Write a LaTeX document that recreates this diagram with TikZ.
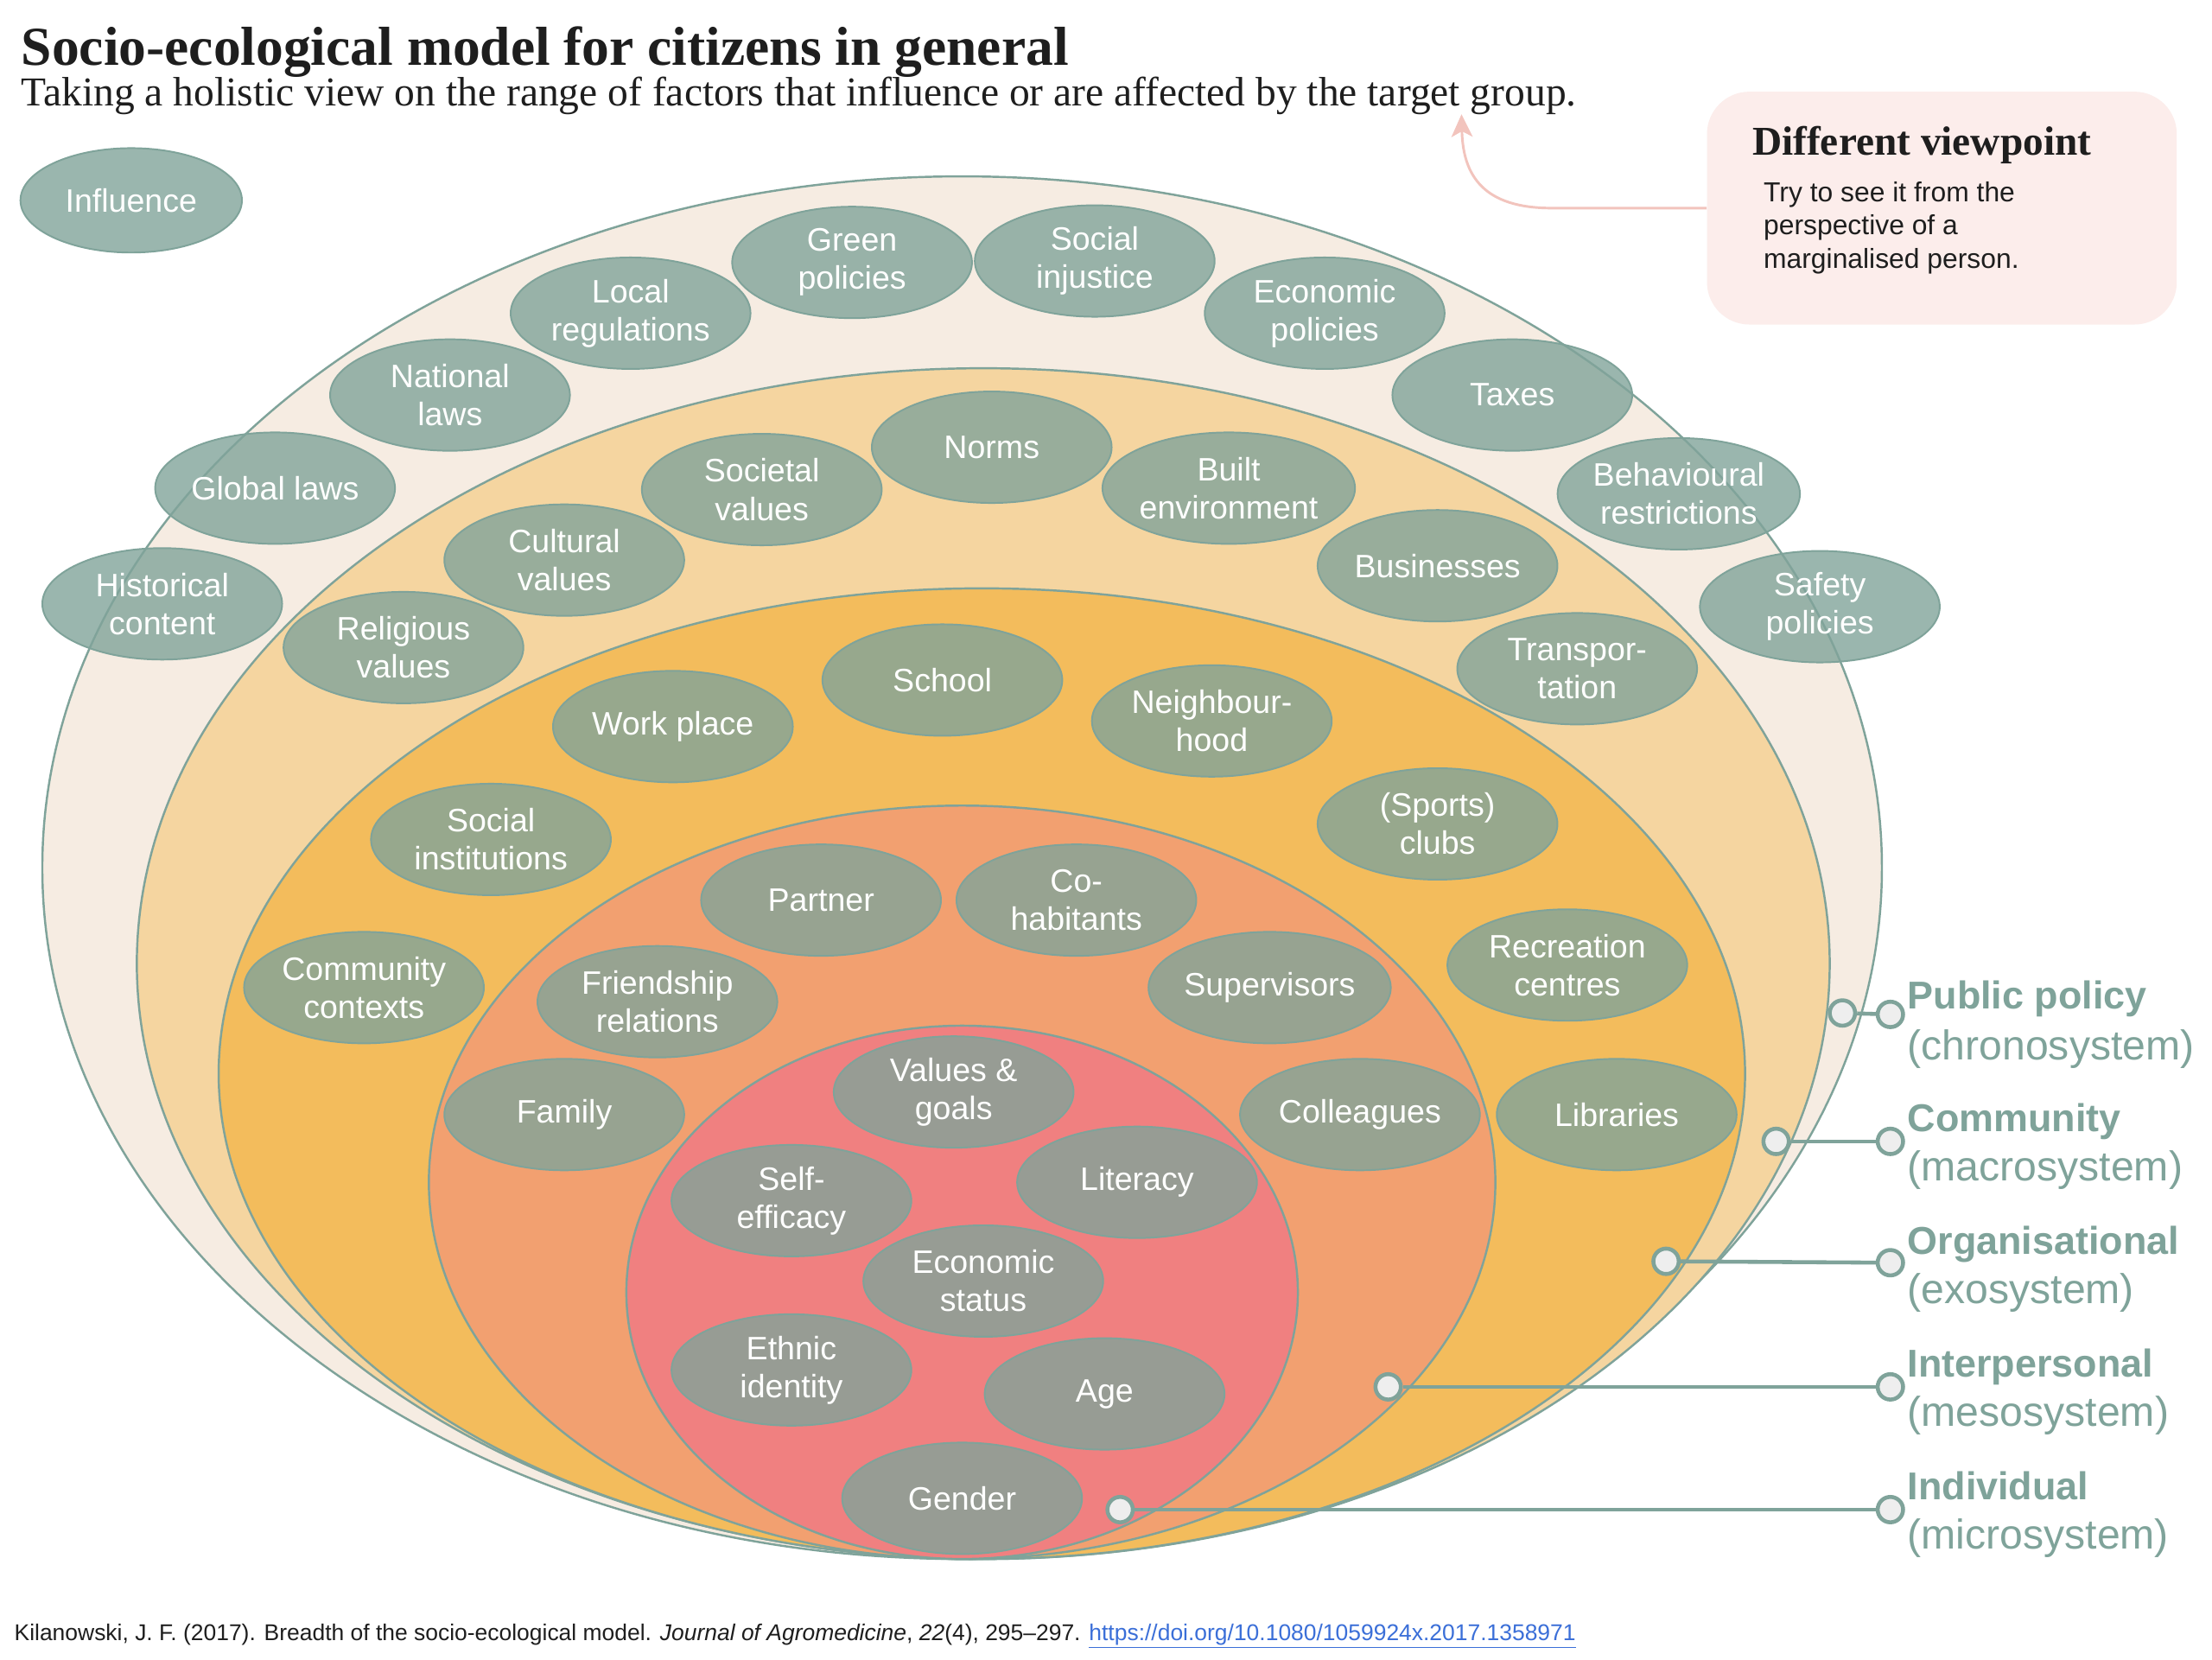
\documentclass[tikz,border=0pt]{standalone}
\usepackage{fontspec}
\setmainfont{Liberation Sans}
\newfontfamily\timesfont{Liberation Serif}
\usetikzlibrary{shapes.geometric,arrows.meta}
\definecolor{sgOuter}{HTML}{F6ECE2}
\definecolor{sgMacro}{HTML}{F5D5A0}
\definecolor{sgExo}{HTML}{F3BC5C}
\definecolor{sgMeso}{HTML}{F2A070}
\definecolor{sgMicro}{HTML}{F08080}
\definecolor{sgLine}{HTML}{7FA39A}
\definecolor{sgFill}{HTML}{81A49A}
\definecolor{sgDot}{HTML}{EEEEEE}
\definecolor{sgPink}{HTML}{F2C4BD}
\definecolor{sgBox}{HTML}{FCEDEB}
\definecolor{sgLink}{HTML}{3B6FD8}
\definecolor{sgText}{HTML}{1E1E1E}
\begin{document}
\begin{tikzpicture}[x=1pt,y=-1pt,
  layer/.style={draw=sgLine, line width=1.5pt},
  factor/.style={ellipse, draw=sgLine, line width=1.2pt, fill=sgFill, fill opacity=0.8, text opacity=1,
    text=white, minimum width=170pt, minimum height=79pt, inner sep=0pt, align=center,
    font=\fontsize{23}{27}\selectfont},
  legdot/.style={circle, draw=sgLine, line width=2.8pt, fill=sgDot, minimum size=18pt, inner sep=0pt},
  leglink/.style={draw=sgLine, line width=2.8pt},
  legbold/.style={anchor=base west, inner sep=0pt, text=sgLine, font=\fontsize{27.5}{33}\selectfont\bfseries},
  legreg/.style={anchor=base west, inner sep=0pt, text=sgLine, font=\fontsize{29.5}{34}\selectfont},
  boxline/.style={anchor=base west, inner sep=0pt, text=sgText, font=\fontsize{19.5}{23}\selectfont}
]
\fill[white] (0,0) rectangle (1568,1176);
\useasboundingbox (0,0) rectangle (1568,1176);

% titles
\node[anchor=base west, inner sep=0pt, text=sgText, font=\timesfont\bfseries\fontsize{38.9}{44}\selectfont] (title) at (15,46) {Socio-ecological model for citizens in general};
\node[anchor=base west, inner sep=0pt, text=sgText, font=\timesfont\fontsize{29.1}{34}\selectfont] (subtitle) at (15,75) {Taking a holistic view on the range of factors that influence or are affected by the target group.};

% layers
\draw[layer, fill=sgOuter] (682,615) ellipse [x radius=652pt, y radius=490pt];
\draw[layer, fill=sgMacro] (697,683) ellipse [x radius=600pt, y radius=422pt];
\draw[layer, fill=sgExo]   (696,761) ellipse [x radius=541pt, y radius=344pt];
\draw[layer, fill=sgMeso]  (682,838) ellipse [x radius=378pt, y radius=267pt];
\draw[layer, fill=sgMicro] (682,916) ellipse [x radius=238pt, y radius=189pt];

% outside
\node[factor, minimum width=157pt, minimum height=74pt] (influence) at (93,142) {Influence};

% chronosystem ring
\node[factor] (green) at (604,186) {Green\\policies};
\node[factor] (injustice) at (776,185) {Social\\injustice};
\node[factor] (local) at (447,222) {Local\\regulations};
\node[factor] (econpol) at (939,222) {Economic\\policies};
\node[factor] (national) at (319,280) {National\\laws};
\node[factor] (taxes) at (1072,280) {Taxes};
\node[factor] (global) at (195,346) {Global laws};
\node[factor] (behav) at (1190,350) {Behavioural\\restrictions};
\node[factor] (historical) at (115,428) {Historical\\content};
\node[factor] (safety) at (1290,430) {Safety\\policies};

% macrosystem ring
\node[factor] (norms) at (703,317) {Norms};
\node[factor] (societal) at (540,347) {Societal\\values};
\node[factor] (built) at (871,346) {Built\\environment};
\node[factor] (cultural) at (400,397) {Cultural\\values};
\node[factor] (business) at (1019,401) {Businesses};
\node[factor] (religious) at (286,459) {Religious\\values};
\node[factor] (transport) at (1118,474) {Transpor-\\tation};

% exosystem ring
\node[factor] (school) at (668,482) {School};
\node[factor] (work) at (477,515) {Work place};
\node[factor] (neigh) at (859,511) {Neighbour-\\hood};
\node[factor] (socinst) at (348,595) {Social\\institutions};
\node[factor] (sports) at (1019,584) {(Sports)\\clubs};
\node[factor] (commctx) at (258,700) {Community\\contexts};
\node[factor] (recreation) at (1111,684) {Recreation\\centres};
\node[factor] (libraries) at (1146,790) {Libraries};

% mesosystem ring
\node[factor] (partner) at (582,638) {Partner};
\node[factor] (cohab) at (763,638) {Co-\\habitants};
\node[factor] (friend) at (466,710) {Friendship\\relations};
\node[factor] (superv) at (900,700) {Supervisors};
\node[factor] (family) at (400,790) {Family};
\node[factor] (colleagues) at (964,790) {Colleagues};

% microsystem
\node[factor] (values) at (676,774) {Values \&\\goals};
\node[factor] (selfeff) at (561,851) {Self-\\efficacy};
\node[factor] (literacy) at (806,838) {Literacy};
\node[factor] (econstat) at (697,908) {Economic\\status};
\node[factor] (ethnic) at (561,971) {Ethnic\\identity};
\node[factor] (age) at (783,988) {Age};
\node[factor] (gender) at (682,1062) {Gender};

% legend dots
\node[legdot] (inPub) at (1306,718) {};
\node[legdot] (outPub) at (1340,719) {};
\node[legdot] (inCom) at (1259,809) {};
\node[legdot] (outCom) at (1340,809) {};
\node[legdot] (inOrg) at (1181,894) {};
\node[legdot] (outOrg) at (1340,895) {};
\node[legdot] (inInt) at (984,983) {};
\node[legdot] (outInt) at (1340,983) {};
\node[legdot] (inInd) at (794,1070) {};
\node[legdot] (outInd) at (1340,1070) {};
\draw[leglink] (inPub) -- (outPub);
\draw[leglink] (inCom) -- (outCom);
\draw[leglink] (inOrg) -- (outOrg);
\draw[leglink] (inInt) -- (outInt);
\draw[leglink] (inInd) -- (outInd);

% legend labels
\node[legbold] (lPub) at (1352,715) {Public policy};
\node[legreg] (lPub2) at (1352,751) {(chronosystem)};
\node[legbold] (lCom) at (1352,802) {Community};
\node[legreg] (lCom2) at (1352,837) {(macrosystem)};
\node[legbold] (lOrg) at (1352,889) {Organisational};
\node[legreg] (lOrg2) at (1352,924) {(exosystem)};
\node[legbold] (lInt) at (1352,976) {Interpersonal};
\node[legreg] (lInt2) at (1352,1011) {(mesosystem)};
\node[legbold] (lInd) at (1352,1063) {Individual};
\node[legreg] (lInd2) at (1352,1098) {(microsystem)};

% viewpoint box
\node[draw=none, fill=sgBox, rounded corners=30pt, minimum width=333pt, minimum height=165pt, inner sep=0pt] (vbox) at (1376.5,147.5) {};
\node[anchor=base west, inner sep=0pt, text=sgText, font=\timesfont\bfseries\fontsize{29}{33}\selectfont] (vtitle) at (1242,110) {Different viewpoint};
\node[boxline] (vl1) at (1250,143) {Try to see it from the};
\node[boxline] (vl2) at (1250,166.5) {perspective of a};
\node[boxline] (vl3) at (1250,190) {marginalised person.};
\coordinate (tip) at (1036,81);
\draw[draw=sgPink, line width=1.8pt, -{Stealth[length=16pt,width=15pt,inset=4pt]}] (vbox.west) -- (1100,147.5) .. controls (1052,147.5) and (1037,125) .. (tip);

% citation
\node[anchor=base west, inner sep=0pt, text=sgText, font=\fontsize{16.2}{19}\selectfont] (cite) at (10,1163) {Kilanowski, J. F. (2017). Breadth of the socio-ecological model. \textit{Journal of Agromedicine}, \textit{22}(4), 295–297. \textcolor{sgLink}{\underline{https://doi.org/10.1080/1059924x.2017.1358971}}};
\end{tikzpicture}
\end{document}
